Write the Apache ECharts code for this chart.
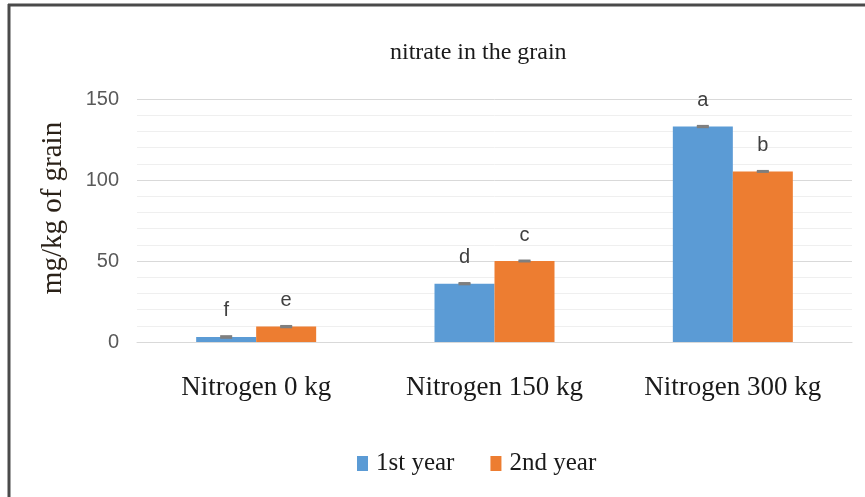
<!DOCTYPE html>
<html>
<head>
<meta charset="utf-8">
<script src="https://cdn.jsdelivr.net/npm/echarts@6/dist/echarts.min.js"></script>
<style>
  html, body { margin: 0; padding: 0; background: #fff; }
  #chart { width: 865px; height: 497px; }
</style>
</head>
<body>
<div id="chart"></div>
<script>
// data
const categories = ["Nitrogen 0 kg", "Nitrogen 150 kg", "Nitrogen 300 kg"];
const seriesNames = ["1st year", "2nd year"];
const year1 = [3.1, 36, 133];
const year2 = [9.5, 50, 105.3];
const year1Err = [0.5, 0.4, 0.4];
const year2Err = [0.4, 0.3, 0.3];
const year1Letters = ["f", "d", "a"];
const year2Letters = ["e", "c", "b"];

const serif = "'Liberation Serif', 'Times New Roman', serif";
const sans = "'Liberation Sans', Arial, sans-serif";
const barW = 60;

const chart = echarts.init(document.getElementById("chart"));

// error bar: small gray cap at the bar top
function errorSeries(values, errs, offset) {
  return {
    type: "custom",
    silent: true,
    z: 5,
    data: values.map((v, i) => [i, v - errs[i], v + errs[i]]),
    renderItem(params, api) {
      const lo = api.coord([api.value(0), api.value(1)]);
      const hi = api.coord([api.value(0), api.value(2)]);
      const x = lo[0] + offset;
      const style = { stroke: "#7f7f7f", lineWidth: 2 };
      return {
        type: "group",
        children: [
          { type: "line", shape: { x1: x, y1: lo[1], x2: x, y2: hi[1] }, style },
          { type: "line", shape: { x1: x - 6, y1: lo[1], x2: x + 6, y2: lo[1] }, style },
          { type: "line", shape: { x1: x - 6, y1: hi[1], x2: x + 6, y2: hi[1] }, style }
        ]
      };
    }
  };
}

function letterLabel(letters) {
  return {
    show: true,
    position: "top",
    distance: 16,
    fontFamily: sans,
    fontSize: 20,
    color: "#404040",
    formatter: (p) => letters[p.dataIndex]
  };
}

chart.setOption({
  backgroundColor: "#fff",
  animation: false,
  title: {
    text: "nitrate in the grain",
    left: 385,
    top: 36,
    textStyle: { fontFamily: serif, fontSize: 24, fontWeight: "normal", color: "#1a1a1a" }
  },
  legend: {
    data: seriesNames,
    left: 352,
    top: 446,
    itemWidth: 11,
    itemHeight: 15,
    itemGap: 36,
    icon: "rect",
    textStyle: { fontFamily: serif, fontSize: 25, color: "#1a1a1a", padding: [0, 0, 0, 3] }
  },
  grid: { left: 137, right: 13, top: 99, bottom: 155 },
  xAxis: {
    type: "category",
    data: categories,
    axisLine: { lineStyle: { color: "#d9d9d9", width: 1 } },
    axisTick: { show: false },
    axisLabel: { fontFamily: serif, fontSize: 27, color: "#1a1a1a", margin: 32 }
  },
  yAxis: {
    type: "value",
    min: 0,
    max: 150,
    interval: 50,
    axisLine: { show: false },
    axisTick: { show: false },
    axisLabel: { fontFamily: sans, fontSize: 20, color: "#595959", margin: 18 },
    splitLine: { lineStyle: { color: "#d9d9d9", width: 1 } },
    minorTick: { show: false, splitNumber: 5 },
    minorSplitLine: { show: true, lineStyle: { color: "#efefef", width: 1 } }
  },
  graphic: [
    { type: "line", shape: { x1: 8, y1: 5, x2: 865, y2: 5 }, style: { stroke: "#4a4a4a", lineWidth: 3 } },
    { type: "line", shape: { x1: 9, y1: 4, x2: 9, y2: 497 }, style: { stroke: "#4a4a4a", lineWidth: 3 } },
    {
      type: "text",
      x: 53,
      y: 208,
      rotation: Math.PI / 2,
      style: {
        text: "mg/kg of grain",
        fontFamily: serif,
        fontSize: 29,
        fill: "#2a2118",
        align: "center",
        verticalAlign: "middle"
      }
    }
  ],
  series: [
    {
      name: seriesNames[0],
      type: "bar",
      data: year1,
      barWidth: barW,
      barGap: "0%",
      itemStyle: { color: "#5b9bd5" },
      label: letterLabel(year1Letters)
    },
    {
      name: seriesNames[1],
      type: "bar",
      data: year2,
      barWidth: barW,
      barGap: "0%",
      itemStyle: { color: "#ed7d31" },
      label: letterLabel(year2Letters)
    },
    errorSeries(year1, year1Err, -barW / 2),
    errorSeries(year2, year2Err, barW / 2)
  ]
});
</script>
</body>
</html>
